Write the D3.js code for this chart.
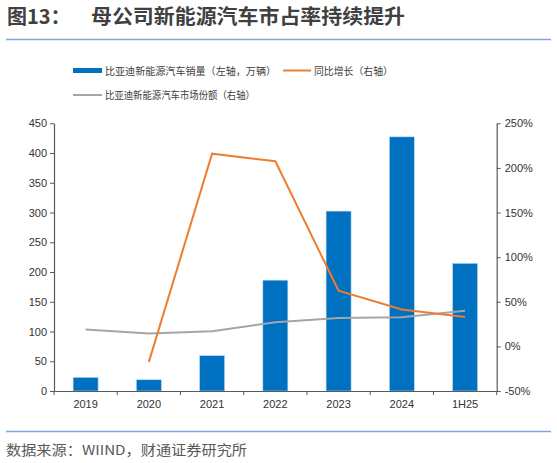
<!DOCTYPE html>
<html><head><meta charset="utf-8">
<script src="https://cdn.jsdelivr.net/npm/d3@7/dist/d3.min.js"></script>
<style>
html,body{margin:0;padding:0;background:#fff;}
svg{display:block;}
</style></head>
<body>
<svg id="c" width="557" height="463"></svg>
<script>
const categories = ["2019","2020","2021","2022","2023","2024","1H25"];
const salesValues = [22.9, 18.9, 59.4, 186.3, 302.4, 427.2, 214.6];      // 万辆, left axis
const growthValues = [null, -17.4, 216, 207.5, 62.3, 41.3, 33.0];       // %, right axis
const shareValues = [18.9, 14.5, 17.0, 27.0, 31.9, 32.6, 40.0];         // %, right axis
const leftTicks = [0,50,100,150,200,250,300,350,400,450];
const rightTicks = [-50,0,50,100,150,200,250];

const svg = d3.select("#c");
const fontLat = "'Liberation Sans', Arial, sans-serif";
const fontCJK = "'Noto Sans CJK SC', sans-serif";

// Title
svg.append("text").attr("x",7).attr("y",24).attr("fill","#404040")
  .attr("font-family",fontCJK).attr("font-size",20).attr("font-weight","bold").text("图13：");
svg.append("text").attr("x",91).attr("y",24).attr("fill","#404040")
  .attr("font-family",fontCJK).attr("font-size",20).attr("font-weight","bold")
  .attr("textLength",314).attr("lengthAdjust","spacingAndGlyphs").text("母公司新能源汽车市占率持续提升");
svg.append("line").attr("x1",6).attr("x2",551).attr("y1",39.5).attr("y2",39.5)
  .attr("stroke","#7fa6d6").attr("stroke-width",1.5);

// Footer
svg.append("line").attr("x1",6).attr("x2",551).attr("y1",431.5).attr("y2",431.5)
  .attr("stroke","#7fa6d6").attr("stroke-width",1.5);
svg.append("text").attr("x",6).attr("y",455).attr("fill","#595959")
  .attr("font-family",fontCJK).attr("font-size",13.5)
  .attr("textLength",241).attr("lengthAdjust","spacingAndGlyphs").text("数据来源：WIIND，财通证券研究所");

// Scales
const x0 = 54, x1 = 496.7;
const xb = d3.scaleBand().domain(categories).range([x0,x1]);
const yL = d3.scaleLinear().domain([0,450]).range([391,123.3]);
const yR = d3.scaleLinear().domain([-50,250]).range([391,123.3]);

// Bars
svg.append("g").selectAll("rect").data(salesValues).join("rect")
  .attr("x",(d,i)=>xb(categories[i]) + xb.bandwidth()/2 - 12.5)
  .attr("width",25)
  .attr("y",d=>yL(d)).attr("height",d=>yL(0)-yL(d))
  .attr("fill","#0070C0").attr("stroke","#bcd6ee").attr("stroke-width",0.6);

// Lines
const cx = c => xb(c) + xb.bandwidth()/2;
const shareLine = d3.line().x((d,i)=>cx(categories[i])).y(d=>yR(d));
svg.append("path").datum(shareValues).attr("d",shareLine)
  .attr("fill","none").attr("stroke","#A5A5A5").attr("stroke-width",2);
const growthLine = d3.line().defined(d=>d!==null).x((d,i)=>cx(categories[i])).y(d=>yR(d));
svg.append("path").datum(growthValues).attr("d",growthLine)
  .attr("fill","none").attr("stroke","#ED7D31").attr("stroke-width",2);

// Axes
const axisColor = "#595959";
const gl = svg.append("g").attr("transform",`translate(${x0},0)`)
  .call(d3.axisLeft(yL).tickValues(leftTicks).tickSize(4).tickPadding(3).tickSizeOuter(0));
const gr = svg.append("g").attr("transform",`translate(${x1},0)`)
  .call(d3.axisRight(yR).tickValues(rightTicks).tickSize(4).tickPadding(4).tickFormat(d=>d+"%").tickSizeOuter(0));
const gb = svg.append("g").attr("transform",`translate(0,391)`)
  .call(d3.axisBottom(xb).tickSize(0).tickPadding(9).tickSizeOuter(0));
gb.selectAll(".bt").data(d3.range(categories.length+1)).join("line").attr("class","bt")
  .attr("x1",i=>x0 + i*xb.step()).attr("x2",i=>x0 + i*xb.step())
  .attr("y1",0).attr("y2",4).attr("stroke",axisColor);
[gl,gr,gb].forEach(g=>{
  g.selectAll(".domain").attr("stroke",axisColor).attr("stroke-width",1.2);
  g.selectAll(".tick line").attr("stroke",axisColor);
  g.selectAll("text").attr("font-family",fontLat).attr("font-size",11).attr("fill","#333");
});

// Legend
const lg = svg.append("g").attr("font-family",fontCJK).attr("font-size",10).attr("fill","#404040");
lg.append("rect").attr("x",73).attr("y",68).attr("width",29).attr("height",5).attr("fill","#0070C0");
lg.append("text").attr("x",105).attr("y",74.5).attr("textLength",171).attr("lengthAdjust","spacingAndGlyphs").text("比亚迪新能源汽车销量（左轴，万辆）");
lg.append("line").attr("x1",283).attr("x2",311).attr("y1",70.5).attr("y2",70.5).attr("stroke","#ED7D31").attr("stroke-width",2);
lg.append("text").attr("x",314).attr("y",74.5).attr("textLength",79).attr("lengthAdjust","spacingAndGlyphs").text("同比增长（右轴）");
lg.append("line").attr("x1",73).attr("x2",102).attr("y1",95).attr("y2",95).attr("stroke","#A5A5A5").attr("stroke-width",2);
lg.append("text").attr("x",105).attr("y",98.5).attr("textLength",150).attr("lengthAdjust","spacingAndGlyphs").text("比亚迪新能源汽车市场份额（右轴）");
</script>
</body></html>
